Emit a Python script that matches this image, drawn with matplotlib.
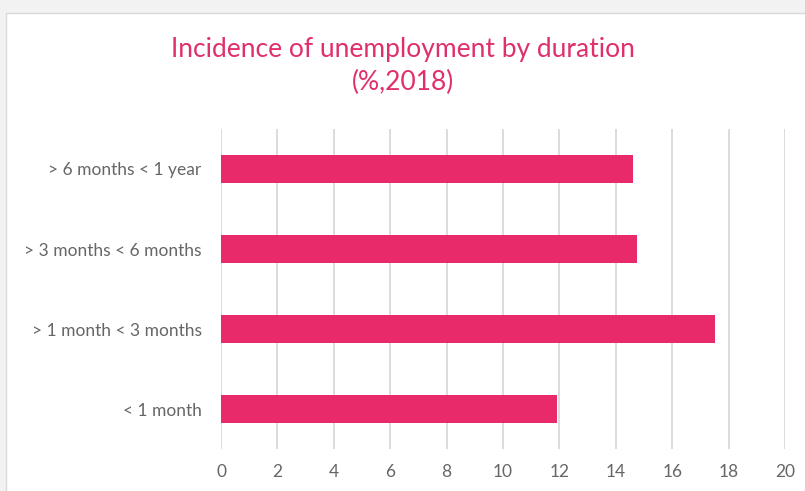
import matplotlib.pyplot as plt
from matplotlib.patches import Rectangle

# data
categories = ['< 1 month', '> 1 month < 3 months', '> 3 months < 6 months', '> 6 months < 1 year']
values = [11.9, 17.5, 14.75, 14.6]
xticks = [0, 2, 4, 6, 8, 10, 12, 14, 16, 18, 20]

pink = '#e8296a'
grey = '#666666'

plt.rcParams['font.family'] = ['Lato', 'DejaVu Sans']

fig = plt.figure(figsize=(8.05, 4.91), dpi=100)
fig.patch.set_facecolor('#f2f2f2')
# white chart area with thin border
fig.patches.append(Rectangle((6 / 805, -0.01), 1.0, 1 - 13 / 491 + 0.01,
                             transform=fig.transFigure, facecolor='white',
                             edgecolor='#d9d9d9', linewidth=1.0, zorder=-5))

ax = fig.add_axes([221 / 805, 1 - 449 / 491, (785 - 221) / 805, (449 - 129) / 491])
ax.set_zorder(2)
ax.set_facecolor('none')
ypos = range(len(categories))
ax.barh(ypos, values, height=0.346, color=pink, zorder=3)
ax.set_xlim(0, 20)
ax.set_ylim(-0.5, len(categories) - 0.5)
ax.set_xticks(xticks)
ax.set_yticks(list(ypos))
ax.set_yticklabels(categories)
ax.grid(axis='x', color='#d9d9d9', linewidth=1.3, zorder=0)
for s in ax.spines.values():
    s.set_visible(False)
ax.tick_params(axis='both', length=0, colors=grey, labelsize=12.5)
ax.tick_params(axis='x', pad=11)
ax.tick_params(axis='y', pad=14)

fig.text(0.5, 1 - 49 / 491, 'Incidence of unemployment by duration', ha='center', va='center',
         fontsize=19, color='#e0306a')
fig.text(0.5, 1 - 82 / 491, '(%,2018)', ha='center', va='center',
         fontsize=19, color='#e0306a')

fig.savefig('out.png', dpi=100, facecolor=fig.get_facecolor())
